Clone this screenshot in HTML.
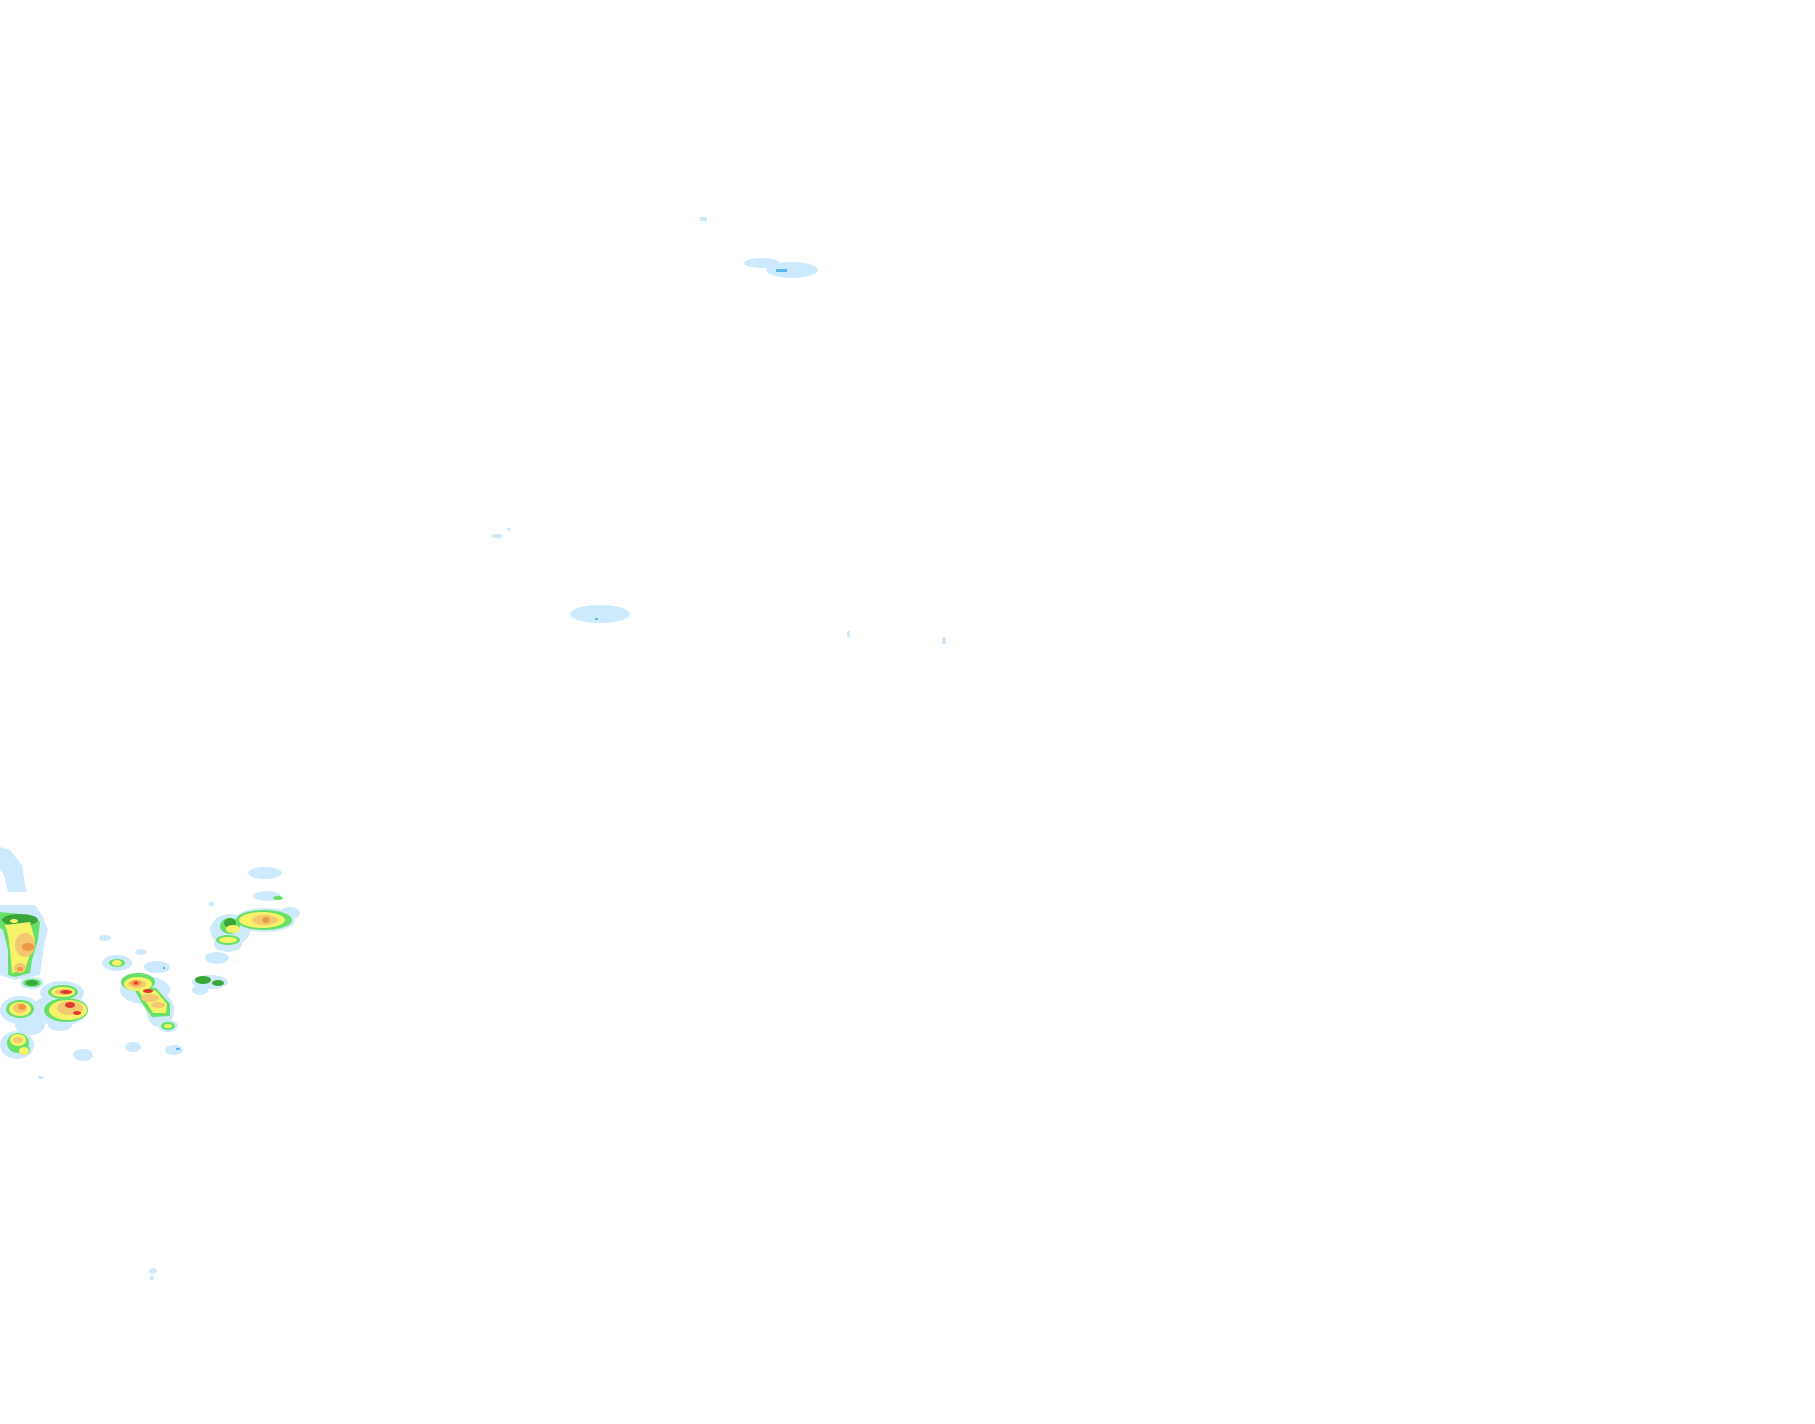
<!DOCTYPE html>
<html><head><meta charset="utf-8"><style>html,body{margin:0;padding:0;background:#fff;width:1815px;height:1424px;overflow:hidden}</style></head>
<body>
<svg width="1815" height="1424" viewBox="0 0 1815 1424" xmlns="http://www.w3.org/2000/svg">
<g fill="#cdeafd">
<rect x="700" y="217" width="7" height="4"/>
<ellipse cx="762" cy="263" rx="18" ry="5"/>
<ellipse cx="792" cy="270" rx="26" ry="8"/>
<ellipse cx="497" cy="536" rx="6" ry="2"/>
<rect x="507" y="528" width="3" height="3"/>
<ellipse cx="600" cy="614" rx="30" ry="9"/>
<rect x="847" y="631" width="3" height="6"/>
<rect x="942" y="637" width="4" height="7"/>
<ellipse cx="153" cy="1271" rx="4" ry="3"/>
<ellipse cx="152" cy="1278" rx="2" ry="3"/>
<path d="M0 847 L10 850 L22 865 L25 885 L27 892 L8 892 L4 875 L0 870Z"/>
<path d="M0 905 L35 905 L42 915 L48 930 L44 945 L40 975 L15 980 L0 975Z"/>
<ellipse cx="32" cy="983" rx="12" ry="6"/>
<ellipse cx="62" cy="993" rx="22" ry="12"/>
<ellipse cx="60" cy="1010" rx="28" ry="16"/>
<ellipse cx="20" cy="1010" rx="20" ry="14"/>
<ellipse cx="30" cy="1025" rx="15" ry="10"/>
<ellipse cx="17" cy="1045" rx="17" ry="14"/>
<ellipse cx="60" cy="1025" rx="12" ry="6"/>
<ellipse cx="83" cy="1055" rx="10" ry="6"/>
<ellipse cx="133" cy="1047" rx="8" ry="5"/>
<ellipse cx="174" cy="1050" rx="9" ry="5"/>
<rect x="38" y="1076" width="5" height="3"/>
<ellipse cx="105" cy="938" rx="6" ry="3"/>
<ellipse cx="117" cy="963" rx="15" ry="8"/>
<ellipse cx="141" cy="952" rx="6" ry="3"/>
<ellipse cx="157" cy="967" rx="13" ry="6"/>
<ellipse cx="145" cy="990" rx="25" ry="14"/>
<ellipse cx="160" cy="1010" rx="14" ry="17"/>
<ellipse cx="168" cy="1026" rx="10" ry="6"/>
<ellipse cx="210" cy="982" rx="18" ry="7"/>
<ellipse cx="200" cy="990" rx="8" ry="5"/>
<ellipse cx="217" cy="958" rx="12" ry="6"/>
<ellipse cx="230" cy="930" rx="20" ry="16"/>
<ellipse cx="228" cy="944" rx="14" ry="8"/>
<ellipse cx="265" cy="920" rx="30" ry="12"/>
<ellipse cx="265" cy="873" rx="17" ry="6"/>
<ellipse cx="267" cy="896" rx="14" ry="5"/>
<ellipse cx="290" cy="913" rx="10" ry="6"/>
<rect x="209" y="902" width="5" height="4"/>
</g>
<g fill="#66e066">
<path d="M0 912 L30 915 L40 922 L38 940 L32 960 L30 973 L15 977 L8 975 L8 950 L3 930 L0 928Z"/>
<ellipse cx="32" cy="983" rx="9" ry="4"/>
<ellipse cx="63" cy="992" rx="15" ry="7"/>
<ellipse cx="66" cy="1010" rx="22" ry="12"/>
<ellipse cx="20" cy="1009" rx="14" ry="9"/>
<ellipse cx="18" cy="1043" rx="11" ry="10"/>
<ellipse cx="24" cy="1050" rx="6" ry="5"/>
<ellipse cx="117" cy="963" rx="8" ry="4"/>
<ellipse cx="138" cy="982" rx="17" ry="9"/>
<path d="M132 985 L156 988 L170 1004 L170 1016 L152 1017 L143 1005Z"/>
<ellipse cx="168" cy="1026" rx="7" ry="4"/>
<ellipse cx="230" cy="926" rx="10" ry="8"/>
<ellipse cx="228" cy="940" rx="12" ry="5"/>
<ellipse cx="264" cy="920" rx="28" ry="10"/>
<ellipse cx="278" cy="898" rx="5" ry="2"/>
</g>
<g fill="#3aa63a">
<ellipse cx="20" cy="920" rx="18" ry="6"/>
<ellipse cx="32" cy="983" rx="6" ry="3"/>
<ellipse cx="203" cy="980" rx="8" ry="4"/>
<ellipse cx="218" cy="983" rx="6" ry="3"/>
<ellipse cx="230" cy="923" rx="6" ry="5"/>
</g>
<g fill="#f6f26a">
<path d="M5 925 L30 922 L35 940 L28 960 L25 970 L12 973 L10 950 L8 935Z"/>
<ellipse cx="14" cy="921" rx="4" ry="2"/>
<ellipse cx="63" cy="992" rx="12" ry="5"/>
<ellipse cx="68" cy="1010" rx="19" ry="10"/>
<ellipse cx="20" cy="1009" rx="11" ry="7"/>
<ellipse cx="18" cy="1040" rx="8" ry="6"/>
<ellipse cx="24" cy="1051" rx="5" ry="4"/>
<ellipse cx="117" cy="963" rx="5" ry="3"/>
<ellipse cx="138" cy="984" rx="14" ry="7"/>
<path d="M136 987 L156 991 L167 1004 L166 1013 L153 1013 L146 1002Z"/>
<ellipse cx="168" cy="1026" rx="4" ry="2"/>
<ellipse cx="233" cy="929" rx="7" ry="4"/>
<ellipse cx="228" cy="940" rx="9" ry="3"/>
<ellipse cx="262" cy="920" rx="23" ry="8"/>
</g>
<g fill="#f4c870">
<ellipse cx="25" cy="945" rx="10" ry="12"/>
<ellipse cx="20" cy="968" rx="6" ry="5"/>
<ellipse cx="64" cy="992" rx="9" ry="3"/>
<ellipse cx="70" cy="1008" rx="13" ry="7"/>
<ellipse cx="20" cy="1008" rx="7" ry="5"/>
<ellipse cx="18" cy="1040" rx="5" ry="3"/>
<ellipse cx="137" cy="984" rx="9" ry="4"/>
<ellipse cx="150" cy="998" rx="9" ry="4"/>
<ellipse cx="158" cy="1005" rx="7" ry="3"/>
<ellipse cx="265" cy="920" rx="13" ry="5"/>
</g>
<g fill="#ee9a44">
<ellipse cx="28" cy="947" rx="6" ry="4"/>
<ellipse cx="20" cy="969" rx="3" ry="2"/>
<ellipse cx="22" cy="1007" rx="4" ry="3"/>
<ellipse cx="136" cy="983" rx="5" ry="3"/>
<ellipse cx="266" cy="920" rx="4" ry="3"/>
</g>
<g fill="#e23a2a">
<ellipse cx="66" cy="992" rx="6" ry="2"/>
<ellipse cx="70" cy="1005" rx="5" ry="3"/>
<ellipse cx="77" cy="1013" rx="4" ry="2"/>
<ellipse cx="148" cy="991" rx="5" ry="2"/>
<ellipse cx="136" cy="983" rx="2" ry="1.5"/>
</g>
<g fill="#5ab8ec">
<rect x="776" y="269" width="11" height="3"/>
<rect x="595" y="618" width="3" height="2"/>
<rect x="176" y="1048" width="4" height="2"/>
<rect x="163" y="967" width="2" height="2"/>
</g>
</svg>
</body></html>
